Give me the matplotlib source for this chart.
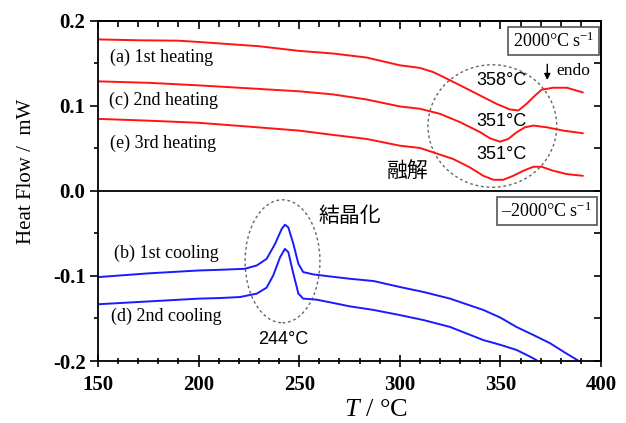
import matplotlib
matplotlib.use("Agg")
import matplotlib.pyplot as plt
from matplotlib.patches import Ellipse
from matplotlib.ticker import MultipleLocator

plt.rcParams['mathtext.fontset'] = 'custom'
plt.rcParams['mathtext.rm'] = 'Liberation Serif'
plt.rcParams['mathtext.it'] = 'Liberation Serif:italic'

# ---- data ----
T_a = [150, 170, 190, 200, 215, 230, 250, 267, 283.5, 300, 310, 316.7, 320, 330, 340, 348, 354.8, 359, 363,
       367.2, 370.5, 376.3, 383, 391]
HF_a = [0.178, 0.177, 0.1765, 0.175, 0.1725, 0.170, 0.1645, 0.1614, 0.1567, 0.1476, 0.1445, 0.1395, 0.1358,
        0.124, 0.112, 0.1023, 0.0956, 0.0945, 0.1023, 0.112, 0.1189, 0.1212, 0.1212, 0.1157]

T_c = [150, 175, 200, 225, 250, 267, 283.5, 300, 310, 316.7, 320, 330, 340, 344.8, 349.8, 353.9, 358.1, 362.2,
       366.4, 373, 381.3, 391]
HF_c = [0.1287, 0.127, 0.124, 0.1205, 0.117, 0.1133, 0.1074, 0.0992, 0.0965, 0.0925, 0.0905, 0.0807, 0.0689,
        0.0618, 0.0578, 0.061, 0.0689, 0.0747, 0.0767, 0.0747, 0.0708, 0.0677]

T_e = [150, 175, 200, 225, 250, 267, 283.5, 300, 310, 316.7, 326.6, 334.9, 341.5, 346.5, 351.4, 356.4, 361.4,
       366.4, 370.5, 376.3, 383, 391]
HF_e = [0.0846, 0.0825, 0.080, 0.0755, 0.0708, 0.0657, 0.061, 0.0531, 0.0504, 0.0452, 0.0374, 0.0275, 0.0177,
        0.013, 0.013, 0.0177, 0.0236, 0.0283, 0.0283, 0.0236, 0.0197, 0.0177]

T_b = [150, 175, 200, 210.6, 223, 228.9, 233.8, 238, 241.3, 242.9, 244.6, 247.1, 249.6, 252, 257, 265.3, 275,
       287, 300, 312, 325, 341.5, 350, 358, 366, 374.6, 382, 389]
HF_b = [-0.1014, -0.097, -0.0936, -0.0928, -0.0916, -0.0877, -0.080, -0.0624, -0.0448, -0.0398, -0.0429,
        -0.0624, -0.0858, -0.0955, -0.0982, -0.1006, -0.1033, -0.106, -0.113, -0.119, -0.1267, -0.140, -0.149,
        -0.160, -0.169, -0.179, -0.190, -0.200]

T_d = [150, 175, 200, 210.6, 220.6, 228.9, 233.8, 237.1, 240.5, 242.9, 244.6, 247.1, 249.6, 252, 258.7, 265.3,
       275, 287, 300, 312, 325, 341.5, 350, 358, 364, 368]
HF_d = [-0.1333, -0.130, -0.1267, -0.126, -0.1248, -0.1208, -0.1138, -0.0994, -0.078, -0.0682, -0.0721,
        -0.0974, -0.1208, -0.1267, -0.1279, -0.131, -0.1357, -0.140, -0.146, -0.152, -0.160, -0.1754, -0.181,
        -0.187, -0.194, -0.199]

heat_labels = ["(a) 1st heating", "(c) 2nd heating", "(e) 3rd heating"]
cool_labels = ["(b) 1st cooling", "(d) 2nd cooling"]
peak_labels = ["358°C", "351°C", "351°C", "244°C"]
x_ticks = [150, 200, 250, 300, 350, 400]
y_ticks = [-0.2, -0.1, 0.0, 0.1, 0.2]
y_ticklabels = ["-0.2", "-0.1", "0.0", "0.1", "0.2"]

RED = '#ff1414'
BLUE = '#1a1aff'
SERIF = 'Liberation Serif'
SANS = 'Liberation Sans'
CJK = ['Noto Sans CJK JP', 'DejaVu Sans']

fig = plt.figure(figsize=(6.26, 4.23), dpi=100)
ax = fig.add_axes([98/626, 1-361/423, (601-98)/626, (361-20.7)/423])

lw = 1.4
kw = dict(lw=lw, solid_joinstyle='round', solid_capstyle='round')
ax.plot(T_a, HF_a, color=RED, **kw)
ax.plot(T_c, HF_c, color=RED, **kw)
ax.plot(T_e, HF_e, color=RED, **kw)
ax.plot(T_b, HF_b, color=BLUE, **kw)
ax.plot(T_d, HF_d, color=BLUE, **kw)

ax.axhline(0, color='black', lw=1.3)

ax.set_xlim(150, 400)
ax.set_ylim(-0.2, 0.2)

for s in ax.spines.values():
    s.set_linewidth(1.3)

# left / bottom ticks
ax.set_xticks(x_ticks)
ax.set_xticklabels([str(v) for v in x_ticks])
ax.xaxis.set_minor_locator(MultipleLocator(10))
ax.set_yticks(y_ticks)
ax.set_yticklabels(y_ticklabels)
ax.yaxis.set_minor_locator(MultipleLocator(0.05))
ax.tick_params(axis='y', which='major', direction='out', length=6, width=1.2, pad=3)
ax.tick_params(axis='y', which='minor', direction='out', length=3, width=1.2)
ax.tick_params(axis='x', which='major', direction='inout', length=8, width=1.2, pad=6)
ax.tick_params(axis='x', which='minor', direction='inout', length=5, width=1.2)
for lab in ax.get_xticklabels() + ax.get_yticklabels():
    lab.set_fontfamily(SERIF)
    lab.set_fontweight('bold')
    lab.set_fontsize(15)

# top and right ticks
secx = ax.secondary_xaxis('top')
secx.xaxis.set_major_locator(MultipleLocator(50))
secx.xaxis.set_minor_locator(MultipleLocator(10))
secx.tick_params(which='major', direction='in', length=6, width=1.2, labeltop=False)
secx.tick_params(which='minor', direction='in', length=4, width=1.2)
secx.spines['top'].set_linewidth(1.3)
secy = ax.secondary_yaxis('right')
secy.yaxis.set_major_locator(MultipleLocator(0.05))
secy.tick_params(which='major', direction='in', length=5, width=1.2, labelright=False)
secy.spines['right'].set_linewidth(1.3)

# axis labels
fig.text(376/626, 1-410/423, r'$\mathit{T}$ / °C', fontsize=19, family=SERIF, ha='center', va='center')
fig.text(27/626, 1-171/423, 'Heat Flow /  mW', fontsize=15, family=SERIF, rotation=90,
         ha='center', va='center')

# curve labels
tfs = 13
ax.text(156, 0.157, heat_labels[0], family=SERIF, fontsize=tfs, va='center', ha='left')
ax.text(155.7, 0.106, heat_labels[1], family=SERIF, fontsize=tfs, va='center', ha='left')
ax.text(156, 0.0563, heat_labels[2], family=SERIF, fontsize=tfs, va='center', ha='left')
ax.text(158, -0.0733, cool_labels[0], family=SERIF, fontsize=tfs, va='center', ha='left')
ax.text(156.5, -0.148, cool_labels[1], family=SERIF, fontsize=tfs, va='center', ha='left')

# peak labels
pfs = 13
ax.text(350.6, 0.130, peak_labels[0], family=SANS, fontsize=pfs, ha='center', va='center')
ax.text(350.6, 0.0818, peak_labels[1], family=SANS, fontsize=pfs, ha='center', va='center')
ax.text(350.6, 0.0425, peak_labels[2], family=SANS, fontsize=pfs, ha='center', va='center')
ax.text(242, -0.1747, peak_labels[3], family=SANS, fontsize=pfs, ha='center', va='center')

ax.text(304, 0.0236, '融解', family=CJK, fontsize=15, ha='center', va='center')
ax.text(259.5, -0.029, '結晶化', family=CJK, fontsize=15, ha='left', va='center')

# endo arrow
ax.annotate('', xy=(373.3, 0.127), xytext=(373.3, 0.152),
            arrowprops=dict(arrowstyle='-|>', color='black', lw=1.0, mutation_scale=9))
ax.text(377.6, 0.1405, 'endo', family=SERIF, fontsize=12.5, ha='left', va='center')

# rate boxes
box = dict(boxstyle='square,pad=0.25', facecolor='white', edgecolor='#555555', lw=1.2)
ax.text(376.3, 0.176, '2000°C s$^{\\mathrm{-1}}$', family=SERIF, fontsize=13, ha='center', va='center', bbox=box)
ax.text(373, -0.024, '–2000°C s$^{\\mathrm{-1}}$', family=SERIF, fontsize=13, ha='center', va='center', bbox=box)

# dashed ellipses
ax.add_patch(Ellipse((346, 0.0762), 64, 0.144, fill=False, ls=(0, (2, 2)), color='#666666', lw=1.0))
ax.add_patch(Ellipse((241.7, -0.0828), 37.2, 0.1446, fill=False, ls=(0, (2, 2)), color='#666666', lw=1.0))

fig.savefig('out.png', dpi=100)
